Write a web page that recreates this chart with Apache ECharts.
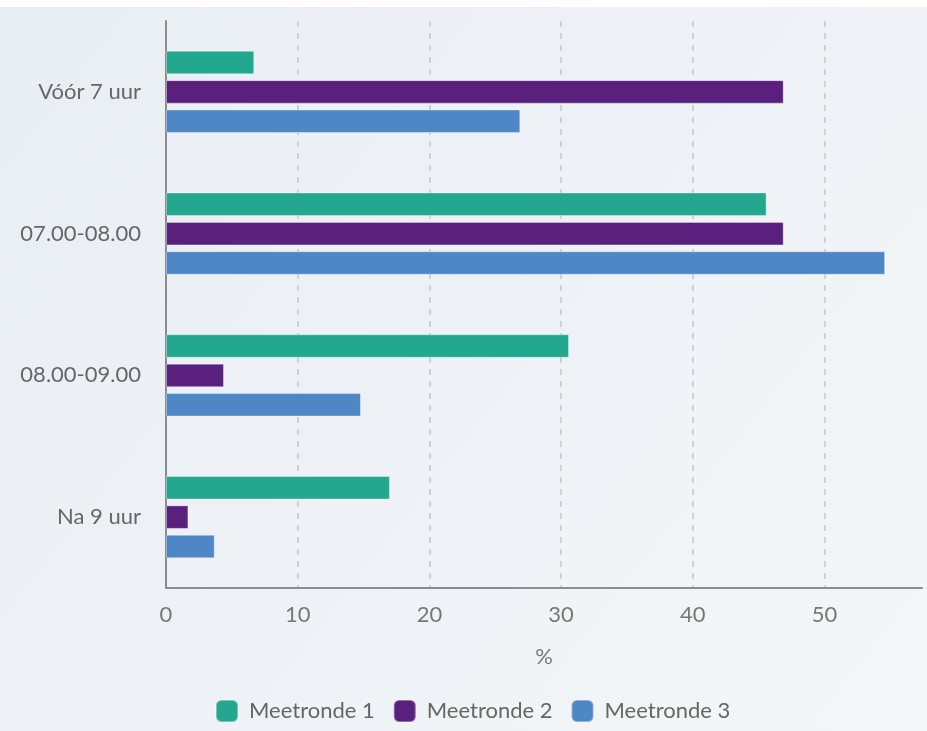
<!DOCTYPE html>
<html>
<head>
<meta charset="utf-8">
<script src="https://cdn.jsdelivr.net/npm/echarts@6/dist/echarts.min.js"></script>
<style>
  html, body { margin: 0; padding: 0; background: #ffffff; }
  #chart { position: absolute; left: 0; top: 7px; width: 927px; height: 724px; }
</style>
</head>
<body>
<div id="chart"></div>
<script>
// Time slots (top to bottom) and share of respondents per measurement round, in %
const categories = ['Vóór 7 uur', '07.00-08.00', '08.00-09.00', 'Na 9 uur'];
const seriesNames = ['Meetronde 1', 'Meetronde 2', 'Meetronde 3'];
const meetronde1 = [6.7, 45.6, 30.6, 17.0];
const meetronde2 = [46.9, 46.9, 4.4, 1.7];
const meetronde3 = [26.9, 54.6, 14.8, 3.7];
const axisTicks = [0, 10, 20, 30, 40, 50];

const colors = ['#23a88f', '#5a207e', '#4f86c6'];
const values = [meetronde1, meetronde2, meetronde3];

const chart = echarts.init(document.getElementById('chart'), null, { renderer: 'canvas' });

const font = 'Lato, "Open Sans", sans-serif';

chart.setOption({
  animation: false,
  backgroundColor: {
    type: 'linear', x: 0, y: 0, x2: 1, y2: 1,
    colorStops: [
      { offset: 0, color: '#e9eef3' },
      { offset: 0.5, color: '#eef2f6' },
      { offset: 1, color: '#f4f7f9' }
    ]
  },
  textStyle: { fontFamily: font },
  grid: { left: 166, right: 5, top: 14, bottom: 143, containLabel: false },
  legend: {
    bottom: 8,
    left: 215,
    padding: 0,
    itemWidth: 22,
    itemHeight: 22,
    itemGap: 18,
    icon: 'roundRect',
    textStyle: { fontSize: 22, color: '#666', fontFamily: font, padding: [0, 0, 0, 6] },
    data: seriesNames
  },
  xAxis: {
    type: 'value',
    min: 0,
    max: 57.4,
    interval: 10,
    name: '%',
    nameLocation: 'middle',
    nameGap: 58,
    nameTextStyle: { fontSize: 22, color: '#777', fontFamily: font },
    axisLine: { show: true, lineStyle: { color: '#8a8d90', width: 2 } },
    axisTick: { show: false },
    axisLabel: {
      fontSize: 22, color: '#777', margin: 16, fontFamily: font,
      showMaxLabel: false,
      formatter: v => axisTicks.includes(v) ? String(v) : ''
    },
    splitLine: {
      show: true,
      showMinLine: false,
      showMaxLine: false,
      lineStyle: { color: '#c4c8cc', type: [6, 6], width: 1.5 }
    }
  },
  yAxis: {
    type: 'category',
    inverse: true,
    data: categories,
    axisLine: { show: true, lineStyle: { color: '#8a8d90', width: 2 } },
    axisTick: { show: false },
    axisLabel: { fontSize: 22, color: '#666', margin: 25, fontFamily: font },
    splitLine: { show: false }
  },
  series: seriesNames.map((name, i) => ({
    name,
    type: 'bar',
    data: values[i],
    barWidth: 23.5,
    barGap: '25%',
    itemStyle: { color: colors[i], borderColor: 'rgba(255,255,255,0.35)', borderWidth: 1 }
  }))
});
</script>
</body>
</html>
